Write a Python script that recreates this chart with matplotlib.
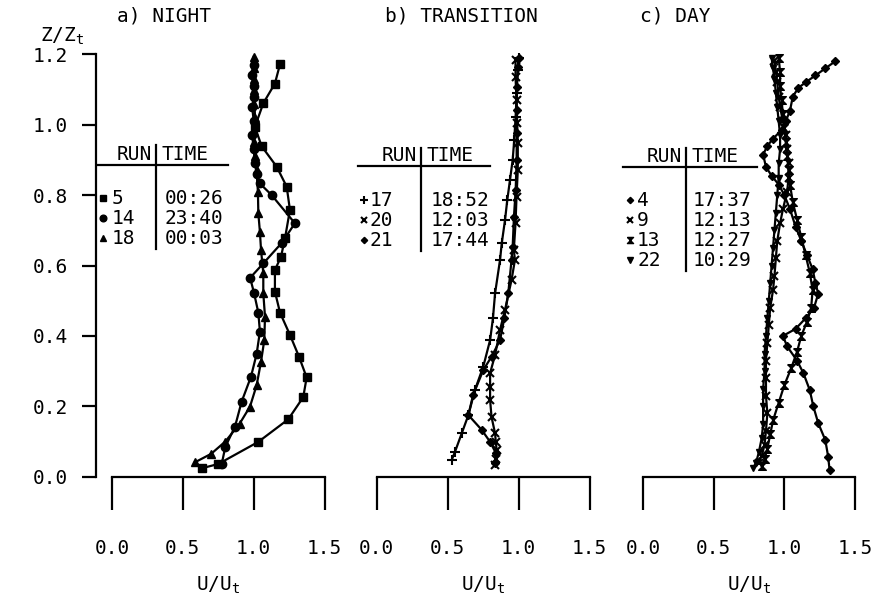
import matplotlib
matplotlib.use("Agg")
import matplotlib.pyplot as plt
from matplotlib.lines import Line2D

# ---------------------------------------------------------------- data
# a) NIGHT
night_runs = ["5", "14", "18"]
night_times = ["00:26", "23:40", "00:03"]
run5_z = [1.172, 1.117, 1.061, 0.994, 0.939, 0.881, 0.824, 0.758, 0.677, 0.625, 0.587,
          0.526, 0.466, 0.403, 0.341, 0.282, 0.226, 0.163, 0.099, 0.036, 0.024]
run5_u = [1.186, 1.150, 1.068, 1.009, 1.056, 1.162, 1.233, 1.256, 1.221, 1.193, 1.150,
          1.150, 1.186, 1.256, 1.320, 1.374, 1.350, 1.244, 1.033, 0.750, 0.633]
run14_z = [1.17, 1.14, 1.11, 1.08, 1.05, 1.01, 0.97, 0.93, 0.89, 0.86, 0.833, 0.800, 0.720,
           0.665, 0.606, 0.565, 0.523, 0.466, 0.412, 0.349, 0.284, 0.213, 0.142, 0.085, 0.035]
run14_u = [1.00, 0.99, 1.00, 1.00, 0.99, 1.00, 0.99, 1.00, 1.01, 1.02, 1.044, 1.127, 1.291,
           1.200, 1.068, 0.975, 1.002, 1.033, 1.044, 1.021, 0.981, 0.915, 0.868, 0.800, 0.774]
run18_z = [1.193, 1.16, 1.13, 1.10, 1.06, 1.02, 0.98, 0.95, 0.91, 0.87, 0.81, 0.748, 0.696,
           0.644, 0.578, 0.521, 0.455, 0.388, 0.327, 0.260, 0.199, 0.15, 0.10, 0.065, 0.041]
run18_u = [1.00, 1.00, 1.00, 1.005, 1.005, 1.01, 1.00, 1.005, 1.01, 1.02, 1.03, 1.033, 1.044,
           1.052, 1.068, 1.068, 1.080, 1.075, 1.052, 1.021, 0.974, 0.90, 0.80, 0.70, 0.586]

# b) TRANSITION
trans_runs = ["17", "20", "21"]
trans_times = ["18:52", "12:03", "17:44"]
run17_z = [0.048, 0.071, 0.123, 0.175, 0.246, 0.313, 0.388, 0.45, 0.521, 0.616, 0.663,
           0.729, 0.786, 0.843, 0.900, 0.957, 1.023, 1.089, 1.155, 1.19]
run17_u = [0.53, 0.553, 0.60, 0.647, 0.693, 0.752, 0.80, 0.82, 0.835, 0.87, 0.882,
           0.905, 0.921, 0.940, 0.959, 0.970, 0.980, 0.987, 0.994, 1.00]
run20_z = [0.033, 0.05, 0.076, 0.10, 0.123, 0.170, 0.218, 0.256, 0.294, 0.346, 0.417, 0.474,
           0.559, 0.616, 0.644, 0.720, 0.795, 0.871, 0.947, 1.004, 1.070, 1.136, 1.184]
run20_u = [0.835, 0.84, 0.846, 0.84, 0.835, 0.81, 0.80, 0.80, 0.80, 0.835, 0.87, 0.905,
           0.951, 0.975, 0.967, 0.979, 0.986, 0.995, 0.995, 0.991, 0.986, 0.979, 0.979]
run21_z = [0.038, 0.066, 0.099, 0.133, 0.175, 0.232, 0.303, 0.341, 0.388, 0.45, 0.521, 0.616,
           0.653, 0.739, 0.814, 0.900, 0.976, 1.042, 1.108, 1.165, 1.19]
run21_u = [0.835, 0.842, 0.80, 0.741, 0.647, 0.68, 0.752, 0.81, 0.87, 0.90, 0.928, 0.951,
           0.959, 0.968, 0.98, 0.987, 0.987, 0.987, 0.987, 0.999, 1.00]

# c) DAY
day_runs = ["4", "9", "13", "22"]
day_times = ["17:37", "12:13", "12:27", "10:29"]
run4_u = [1.36, 1.29, 1.22, 1.15, 1.10, 1.06, 1.04, 1.01, 0.98, 0.92, 0.88, 0.85, 0.87, 0.91,
          0.96, 1.00, 1.04, 1.08, 1.12, 1.16, 1.20, 1.22, 1.24, 1.21, 1.15, 1.08, 0.99, 1.02,
          1.09, 1.135, 1.18, 1.205, 1.24, 1.29, 1.31, 1.32]
run4_z = [1.18, 1.16, 1.14, 1.12, 1.105, 1.08, 1.04, 1.01, 0.985, 0.96, 0.94, 0.915, 0.88, 0.855,
          0.83, 0.80, 0.76, 0.71, 0.67, 0.63, 0.59, 0.55, 0.52, 0.48, 0.45, 0.42, 0.40, 0.37,
          0.33, 0.294, 0.246, 0.20, 0.152, 0.104, 0.057, 0.02]
run9_u = [0.93, 0.94, 0.95, 0.96, 0.97, 0.99, 1.01, 1.02, 1.03, 1.03, 1.02, 0.99, 0.97, 0.95,
          0.94, 0.93, 0.92, 0.90, 0.89, 0.88, 0.87, 0.87, 0.87, 0.88, 0.87, 0.86, 0.84, 0.82]
run9_z = [1.18, 1.15, 1.12, 1.08, 1.05, 1.01, 0.97, 0.93, 0.89, 0.85, 0.81, 0.76, 0.72, 0.67,
          0.62, 0.57, 0.53, 0.48, 0.43, 0.38, 0.33, 0.28, 0.23, 0.18, 0.13, 0.09, 0.06, 0.04]
run13_u = [0.96, 0.97, 0.97, 0.98, 0.99, 1.00, 1.01, 1.02, 1.03, 1.04, 1.06, 1.09, 1.12, 1.15,
           1.18, 1.20, 1.19, 1.16, 1.12, 1.09, 1.05, 1.00, 0.96, 0.92, 0.90, 0.88, 0.86, 0.84]
run13_z = [1.19, 1.15, 1.11, 1.07, 1.03, 0.99, 0.95, 0.91, 0.87, 0.83, 0.78, 0.73, 0.68, 0.63,
           0.58, 0.53, 0.48, 0.44, 0.40, 0.355, 0.31, 0.26, 0.21, 0.16, 0.12, 0.08, 0.05, 0.03]
run22_u = [0.91, 0.92, 0.93, 0.94, 0.95, 0.96, 0.97, 0.97, 0.96, 0.96, 0.95, 0.94, 0.93, 0.92,
           0.91, 0.90, 0.89, 0.88, 0.87, 0.86, 0.86, 0.85, 0.85, 0.85, 0.84, 0.82, 0.80, 0.78]
run22_z = [1.19, 1.16, 1.13, 1.09, 1.05, 1.01, 0.97, 0.93, 0.89, 0.85, 0.80, 0.75, 0.70, 0.65,
           0.60, 0.55, 0.50, 0.45, 0.40, 0.35, 0.30, 0.25, 0.20, 0.15, 0.11, 0.07, 0.04, 0.025]

x_ticks = [0.0, 0.5, 1.0, 1.5]
x_ticklabels = ["0.0", "0.5", "1.0", "1.5"]
y_ticks = [0.0, 0.2, 0.4, 0.6, 0.8, 1.0, 1.2]
y_ticklabels = ["0.0", "0.2", "0.4", "0.6", "0.8", "1.0", "1.2"]

# ---------------------------------------------------------------- style
plt.rcParams["font.family"] = ["DejaVu Sans Mono", "DejaVu Sans"]
plt.rcParams["font.size"] = 14
plt.rcParams["mathtext.fontset"] = "custom"
plt.rcParams["mathtext.rm"] = "DejaVu Sans Mono"
plt.rcParams["mathtext.it"] = "DejaVu Sans Mono"

W, H = 877, 597
fig = plt.figure(figsize=(W / 100, H / 100), dpi=100)


def box(x0, x1, ytop, ybot):
    return [x0 / W, 1 - ybot / H, (x1 - x0) / W, (ybot - ytop) / H]


YTOP, YBOT = 54.3, 476.7
ax_a = fig.add_axes(box(112, 324.5, YTOP, YBOT))
ax_b = fig.add_axes(box(376.5, 589.5, YTOP, YBOT))
ax_c = fig.add_axes(box(643, 855, YTOP, YBOT))

hourglass = [(-1, 1), (1, 1), (-1, -1), (1, -1), (-1, 1)]
LW = 1.6

for ax in (ax_a, ax_b, ax_c):
    ax.set_xlim(0, 1.5)
    ax.set_ylim(0, 1.2)
    ax.patch.set_alpha(0)
    for s in ("top", "right"):
        ax.spines[s].set_visible(False)
    ax.spines["bottom"].set_bounds(0, 1.5)
    ax.spines["bottom"].set_linewidth(LW)
    ax.set_xticks(x_ticks)
    ax.set_xticklabels(x_ticklabels)
    ax.tick_params(axis="x", direction="out", length=24, width=LW, pad=21)
    ax.set_xlabel(r"U/U$_{\mathrm{t}}$", labelpad=12)

ax_a.spines["left"].set_position(("outward", 11.5))
ax_a.spines["left"].set_bounds(0, 1.2)
ax_a.spines["left"].set_linewidth(LW)
ax_a.set_yticks(y_ticks)
ax_a.set_yticklabels(y_ticklabels)
ax_a.tick_params(axis="y", direction="out", length=10, width=LW, pad=10)
for ax in (ax_b, ax_c):
    ax.spines["left"].set_visible(False)
    ax.set_yticks([])

# ---------------------------------------------------------------- profiles
night = [
    (run5_u, run5_z, dict(marker="s", ms=6)),
    (run14_u, run14_z, dict(marker="o", ms=6)),
    (run18_u, run18_z, dict(marker="^", ms=6)),
]
trans = [
    (run17_u, run17_z, dict(marker="+", ms=6.5, mew=1.5)),
    (run20_u, run20_z, dict(marker="x", ms=5.5, mew=1.5)),
    (run21_u, run21_z, dict(marker="D", ms=4)),
]
day = [
    (run4_u, run4_z, dict(marker="D", ms=4)),
    (run9_u, run9_z, dict(marker="x", ms=5.5, mew=1.5)),
    (run13_u, run13_z, dict(marker=hourglass, ms=5.5)),
    (run22_u, run22_z, dict(marker="v", ms=5)),
]

for ax, series in ((ax_a, night), (ax_b, trans), (ax_c, day)):
    for u, z, mk in series:
        ax.plot(u, z, color="k", lw=LW, mfc="k", mec="k", clip_on=False, **mk)


# ---------------------------------------------------------------- run tables
def run_table(ax, series, runs, times, lay):
    k = dict(color="k", lw=LW, clip_on=False)
    ax.add_line(Line2D([lay["h0"], lay["h1"]], [lay["zr"], lay["zr"]], **k))
    z_bot = lay["z0"] - 0.057 * (len(runs) - 1) - 0.03
    ax.add_line(Line2D([lay["v"], lay["v"]], [lay["zt"], z_bot], **k))
    ax.text(lay["v"] - 0.03, lay["zh"], "RUN", ha="right", va="center")
    ax.text(lay["v"] + 0.04, lay["zh"], "TIME", ha="left", va="center")
    for i, (run, t, (_, _, mk)) in enumerate(zip(runs, times, series)):
        zz = lay["z0"] - 0.057 * i
        m = dict(mk)
        m["ms"] = m["ms"] * 0.8
        ax.plot([lay["m"]], [zz], color="k", ls="none", mfc="k", mec="k",
                clip_on=False, **m)
        ax.text(lay["n"], zz, run, ha="left", va="center")
        ax.text(lay["t"], zz, t, ha="left", va="center")


run_table(ax_a, night, night_runs, night_times,
          dict(h0=-0.10, h1=0.82, zr=0.886, v=0.31, zt=0.942, zh=0.914,
               z0=0.791, m=-0.064, n=0.0, t=0.374))
run_table(ax_b, trans, trans_runs, trans_times,
          dict(h0=-0.13, h1=0.80, zr=0.883, v=0.313, zt=0.934, zh=0.912,
               z0=0.786, m=-0.088, n=-0.046, t=0.384))
run_table(ax_c, day, day_runs, day_times,
          dict(h0=-0.14, h1=0.807, zr=0.880, v=0.304, zt=0.934, zh=0.910,
               z0=0.786, m=-0.092, n=-0.042, t=0.354))

# ---------------------------------------------------------------- titles
fig.text(117 / W, 1 - 16 / H, "a) NIGHT", ha="left", va="center")
fig.text(385 / W, 1 - 16 / H, "b) TRANSITION", ha="left", va="center")
fig.text(640 / W, 1 - 16 / H, "c) DAY", ha="left", va="center")
fig.text(40 / W, 1 - 36 / H, r"Z/Z$_{\mathrm{t}}$", ha="left", va="center")

fig.savefig("out.png", dpi=100, facecolor="white")
